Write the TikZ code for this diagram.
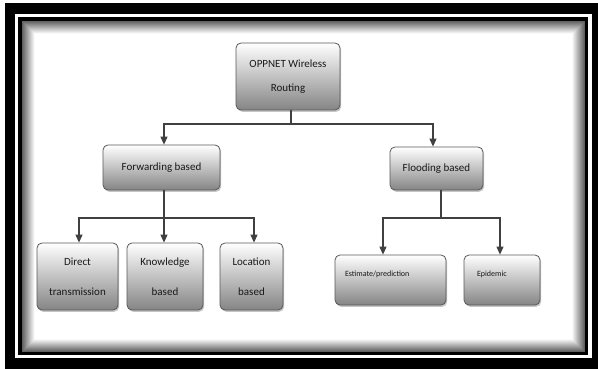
\documentclass[tikz,border=0pt]{standalone}
\usepackage{fontspec}
\setmainfont{Carlito}
\usetikzlibrary{shadows,arrows.meta}

\begin{document}
\begin{tikzpicture}[x=1pt, y=-1pt,
    box/.style={draw=black!65, line width=0.8pt, rounded corners=5pt,
      top color=white, bottom color=black!48,
      drop shadow={shadow xshift=1.2pt, shadow yshift=-1.8pt, opacity=0.45},
      align=center, text=black!90, inner sep=0pt,
      font={\fontsize{11}{30}\selectfont}},
    small/.style={align=left, inner ysep=0pt, text height=21pt, text depth=29pt,
      font={\fontsize{8}{9}\selectfont}},
    link/.style={draw=black!75, line width=1.1pt},
    arr/.style={link, -{Triangle[length=8pt, width=7pt]}}]
  \useasboundingbox (0,0) rectangle (598,369);

  % frame
  \fill[white] (0,0) rectangle (598,369);
  \fill[black] (5,3) rectangle (598,369);
  \fill[white] (15,14) rectangle (592,358);
  \fill[black] (18,17) rectangle (588,355);
  \foreach \i [evaluate=\i as \g using 62-5*\i] in {0,...,12}
    \fill[black!\g] (22+\i,21+\i) rectangle (585-\i,352-\i);
  \fill[white] (35,34) rectangle (572,339);

  \node[box, minimum width=104pt, minimum height=67pt, font={\fontsize{11}{24}\selectfont}] (root) at (288,76.5) {OPPNET Wireless\\Routing};

  \node[box, minimum width=117pt, minimum height=45pt] (fwd) at (161.5,167.5) {Forwarding based};
  \node[box, minimum width=93pt, minimum height=43pt] (flood) at (436.5,168.5) {Flooding based};

  \node[box, minimum width=81pt, minimum height=67pt] (direct) at (77.5,276.5) {Direct\\transmission};
  \node[box, minimum width=76pt, minimum height=67pt] (know) at (165,276.5) {Knowledge\\based};
  \node[box, minimum width=63pt, minimum height=67pt] (loc) at (251.5,276.5) {Location\\based};

  \node[box, small, text width=91pt, inner xsep=10pt] (est) at (390.5,280) {Estimate/prediction};
  \node[box, small, text width=50pt, inner xsep=13pt] (epi) at (502,280) {Epidemic};

  \coordinate (j1) at (291,124);
  \coordinate (j2) at (164,218);
  \coordinate (j3) at (441,218);

  \draw[link] (root.south -| j1) -- (j1);
  \draw[arr] (j1) -| ([xshift=2.5pt]fwd.north);
  \draw[arr] (j1) -| ([xshift=-3.5pt]flood.north);

  \draw[link] (fwd.south -| j2) -- (j2);
  \draw[arr] (j2) -| ([xshift=1.5pt]direct.north);
  \draw[arr] (j2) -- (know.north -| j2);
  \draw[arr] (j2) -| ([xshift=2.5pt]loc.north);

  \draw[link] (flood.south -| j3) -- (j3);
  \draw[arr] (j3) -| ([xshift=-7.5pt]est.north);
  \draw[arr] (j3) -| ([xshift=-2pt]epi.north);
\end{tikzpicture}
\end{document}
